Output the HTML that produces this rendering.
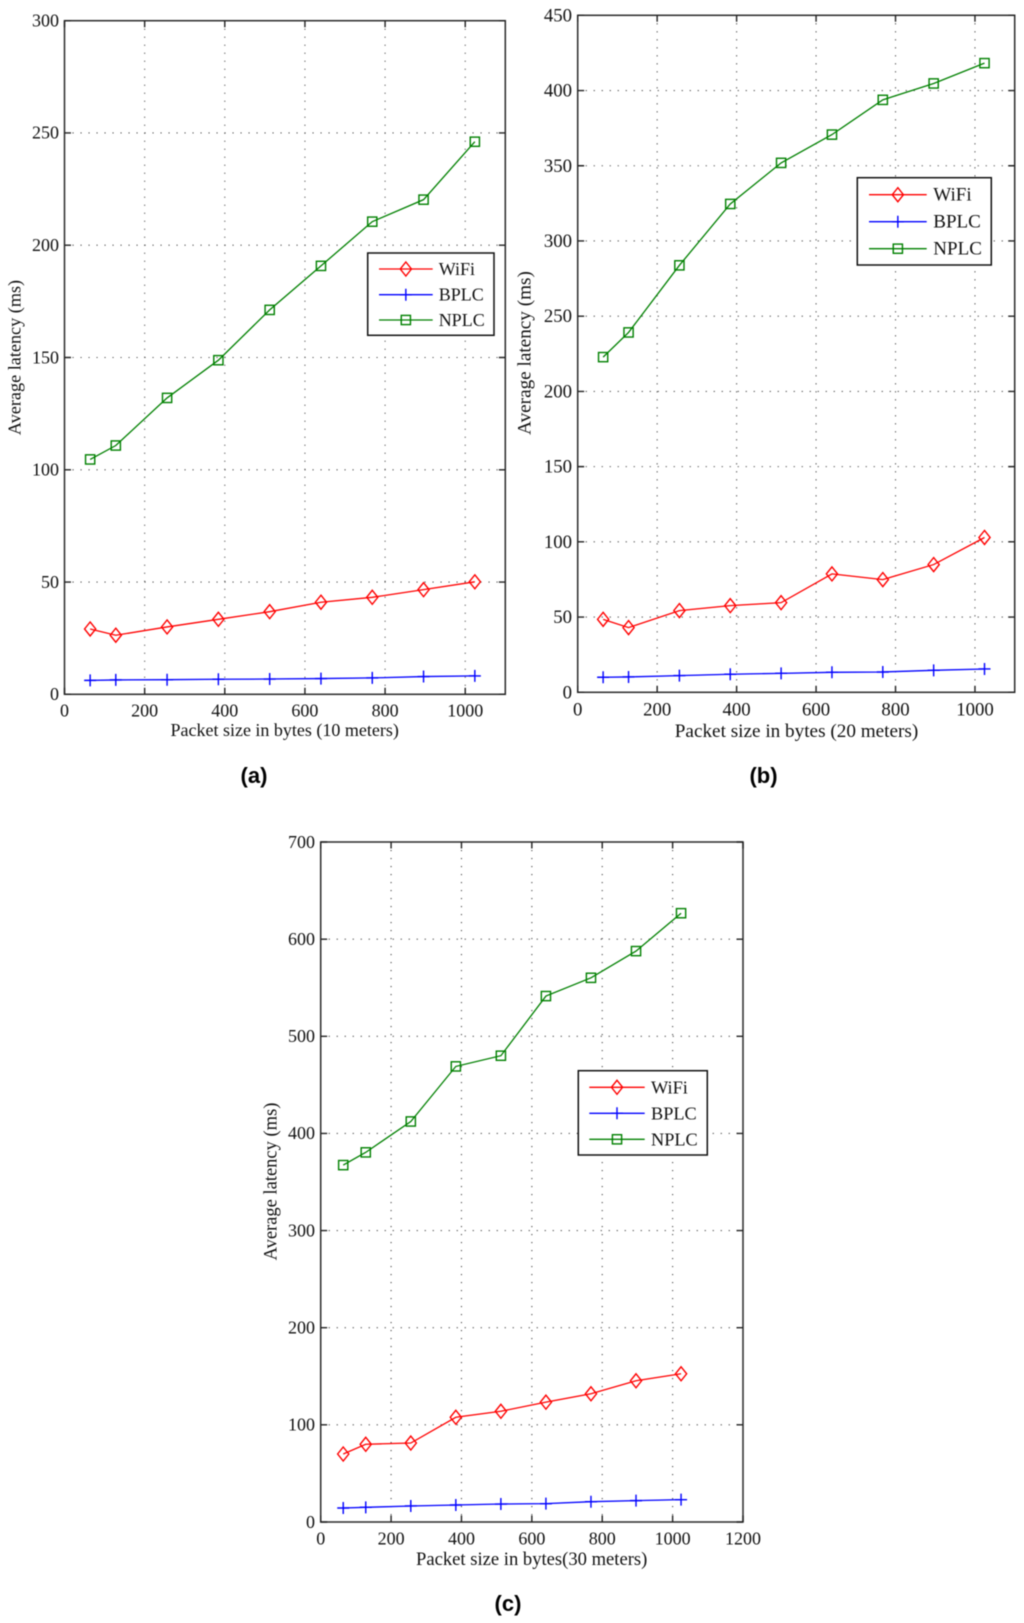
<!DOCTYPE html>
<html lang="en">
<head>
<meta charset="utf-8">
<title>Average latency vs packet size</title>
<style>
html,body{margin:0;padding:0;background:#fff;width:1024px;height:1623px;overflow:hidden}
svg{display:block;position:absolute;left:0;top:0;filter:blur(0.4px)}
text{font-family:"Liberation Serif",serif;fill:#111}
.cap{font-family:"Liberation Sans",sans-serif;font-weight:bold;fill:#000}
</style>
</head>
<body>
<svg id="fig" xmlns="http://www.w3.org/2000/svg" width="1024" height="1623" viewBox="0 0 1024 1623"></svg>
<script>
var packetSizes = [64, 128, 256, 384, 512, 640, 768, 896, 1024];
var seriesNames = ["WiFi", "BPLC", "NPLC"];
var wifi10 = [29.1, 26.3, 30, 33.4, 36.8, 41, 43.2, 46.6, 50.1];
var bplc10 = [6.2, 6.4, 6.5, 6.7, 6.8, 7, 7.3, 7.9, 8.2];
var nplc10 = [104.6, 110.8, 132, 148.8, 171.2, 190.8, 210.5, 220.3, 246.1];
var wifi20 = [48.5, 43, 54.3, 57.6, 59.6, 78.7, 74.9, 84.9, 102.9];
var bplc20 = [10, 10.2, 11.1, 12, 12.6, 13.3, 13.5, 14.6, 15.5];
var nplc20 = [222.8, 239.2, 283.8, 324.6, 351.9, 370.7, 393.8, 404.7, 418.2];
var wifi30 = [70, 80, 81.3, 107.8, 114, 123.4, 132, 145.4, 152.6];
var bplc30 = [14.4, 15.1, 16.5, 17.5, 18.5, 18.9, 20.9, 22, 23];
var nplc30 = [367.4, 380.5, 412.3, 469, 480, 541.4, 560.2, 587.7, 626.7];
var xTicksAB = [0, 200, 400, 600, 800, 1000];
var xTicksC = [0, 200, 400, 600, 800, 1000, 1200];
var yTicksA = [0, 50, 100, 150, 200, 250, 300];
var yTicksB = [0, 50, 100, 150, 200, 250, 300, 350, 400, 450];
var yTicksC = [0, 100, 200, 300, 400, 500, 600, 700];

var NS = "http://www.w3.org/2000/svg";
var fig = document.getElementById("fig");
var COLORS = {WiFi: "#ff0000", BPLC: "#0000ff", NPLC: "#008000"};

function mk(tag, attrs, parent, txt) {
  var el = document.createElementNS(NS, tag);
  for (var k in attrs) el.setAttribute(k, attrs[k]);
  if (txt !== undefined) el.textContent = txt;
  (parent || fig).appendChild(el);
  return el;
}

function drawMarker(parent, kind, cx, cy, label) {
  var c = COLORS[kind];
  var el;
  if (kind === "WiFi") {
    el = mk("polygon", {points: [cx, cy - 7, cx + 5.6, cy, cx, cy + 7, cx - 5.6, cy].join(","), fill: "none", stroke: c, "stroke-width": 1.4}, parent);
  } else if (kind === "BPLC") {
    el = mk("path", {d: "M" + (cx - 6) + " " + cy + "H" + (cx + 6) + "M" + cx + " " + (cy - 6) + "V" + (cy + 6), fill: "none", stroke: c, "stroke-width": 1.4}, parent);
  } else {
    el = mk("rect", {x: cx - 4.6, y: cy - 4.6, width: 9.2, height: 9.2, fill: "none", stroke: c, "stroke-width": 1.4}, parent);
  }
  
  
}

function drawPanel(p) {
  var g = mk("g", {}, fig);
  
  
  var sx = function (v) { return p.left + (v - 0) / p.xMax * (p.right - p.left); };
  var sy = function (v) { return p.bottom - (v - 0) / p.yMax * (p.bottom - p.top); };

  // grid
  var grid = mk("g", {stroke: "#444", "stroke-width": 1.1, "stroke-dasharray": "1.1 6.9", fill: "none"}, g);
  
  
  p.xTicks.forEach(function (t) {
    if (t <= 0 || t >= p.xMax) return;
    var l = mk("line", {x1: sx(t), x2: sx(t), y1: p.top, y2: p.bottom}, grid);
    
    
  });
  p.yTicks.forEach(function (t) {
    if (t <= 0 || t >= p.yMax) return;
    var l = mk("line", {x1: p.left, x2: p.right, y1: sy(t), y2: sy(t)}, grid);
    
    
  });

  // axes box
  var box = mk("rect", {x: p.left, y: p.top, width: p.right - p.left, height: p.bottom - p.top, fill: "none", stroke: "#2a2a2a", "stroke-width": 1.5}, g);
  
  

  // ticks and tick labels
  var TL = 6.5;
  p.xTicks.forEach(function (t) {
    var d = "M" + sx(t) + " " + p.bottom + "v" + (-TL) + "M" + sx(t) + " " + p.top + "v" + TL;
    var tk = mk("path", {d: d, stroke: "#222", "stroke-width": 1.4, fill: "none"}, g);
    
    
    var lb = mk("text", {x: sx(t), y: p.xTickY, "text-anchor": "middle", "font-size": p.tickFont}, g, String(t));
    
    
  });
  p.yTicks.forEach(function (t) {
    var d = "M" + p.left + " " + sy(t) + "h" + TL + "M" + p.right + " " + sy(t) + "h" + (-TL);
    var tk = mk("path", {d: d, stroke: "#222", "stroke-width": 1.4, fill: "none"}, g);
    
    
    var lb = mk("text", {x: p.yTickX, y: sy(t) + p.tickFont * 0.32, "text-anchor": "end", "font-size": p.tickFont}, g, String(t));
    
    
  });

  // axis titles
  var xt = mk("text", {x: p.xTitleX, y: p.xTitleY, "text-anchor": "middle", "font-size": p.xTitleFont}, g, p.xTitle);
  
  
  var yt = mk("text", {x: 0, y: 0, "text-anchor": "middle", "font-size": p.yTitleFont, transform: "translate(" + p.yTitleX + " " + p.yTitleY + ") rotate(-90)"}, g, "Average latency (ms)");
  
  

  // series
  p.series.forEach(function (values, si) {
    var name = seriesNames[si];
    var sg = mk("g", {}, g);
    
    
    var pts = values.map(function (v, i) { return sx(packetSizes[i]) + "," + sy(v); }).join(" ");
    var line = mk("polyline", {points: pts, fill: "none", stroke: COLORS[name], "stroke-width": 1.3}, sg);
    
    
    values.forEach(function (v, i) {
      drawMarker(sg, name, sx(packetSizes[i]), sy(v), "marker-" + name.toLowerCase());
    });
  });

  // legend
  var L = p.legend;
  var lg = mk("g", {}, g);
  
  
  mk("rect", {x: L.x0, y: L.y0, width: L.x1 - L.x0, height: L.y1 - L.y0, fill: "#fff", stroke: "#111", "stroke-width": 1.5}, lg);
  seriesNames.forEach(function (name, i) {
    var e = mk("g", {}, lg);
    
    
    mk("line", {x1: L.lineX0, x2: L.lineX1, y1: L.rows[i], y2: L.rows[i], stroke: COLORS[name], "stroke-width": 1.3}, e);
    drawMarker(e, name, (L.lineX0 + L.lineX1) / 2, L.rows[i], "legend-marker-" + name.toLowerCase());
    var t = mk("text", {x: L.textX, y: L.rows[i] + 6, "font-size": L.font}, e, name);
    
    
  });

  var cap = mk("text", {x: p.capX, y: p.capY, "text-anchor": "middle", "font-size": 22, "class": "cap"}, g, p.caption);
  
  
}

drawPanel({
  id: "a", left: 64.5, right: 505.3, top: 20.7, bottom: 694.3, xMax: 1100, yMax: 300,
  xTicks: xTicksAB, yTicks: yTicksA, series: [wifi10, bplc10, nplc10],
  tickFont: 18, xTickY: 716.5, yTickX: 59,
  xTitle: "Packet size in bytes (10 meters)", xTitleX: 284.7, xTitleY: 736, xTitleFont: 18,
  yTitleX: 20.5, yTitleY: 357.5, yTitleFont: 18.2,
  legend: {x0: 367.7, x1: 494, y0: 253, y1: 335.3, lineX0: 379, lineX1: 432.7, textX: 438.7, rows: [269, 294.7, 320], font: 18},
  caption: "(a)", capX: 254, capY: 783
});
drawPanel({
  id: "b", left: 577.7, right: 1014.7, top: 15.3, bottom: 692.3, xMax: 1100, yMax: 450,
  xTicks: xTicksAB, yTicks: yTicksB, series: [wifi20, bplc20, nplc20],
  tickFont: 18.8, xTickY: 715.5, yTickX: 572,
  xTitle: "Packet size in bytes (20 meters)", xTitleX: 796.5, xTitleY: 737, xTitleFont: 19.2,
  yTitleX: 530.5, yTitleY: 353, yTitleFont: 19.2,
  legend: {x0: 857.3, x1: 991.3, y0: 177.7, y1: 265, lineX0: 869, lineX1: 926.7, textX: 933.3, rows: [194.7, 221.7, 248.7], font: 19},
  caption: "(b)", capX: 763.5, capY: 783
});
drawPanel({
  id: "c", left: 320.7, right: 743, top: 842, bottom: 1522, xMax: 1200, yMax: 700,
  xTicks: xTicksC, yTicks: yTicksC, series: [wifi30, bplc30, nplc30],
  tickFont: 18, xTickY: 1544.5, yTickX: 315,
  xTitle: "Packet size in bytes(30 meters)", xTitleX: 531.7, xTitleY: 1565, xTitleFont: 18.6,
  yTitleX: 276.5, yTitleY: 1181.5, yTitleFont: 18.5,
  legend: {x0: 578.3, x1: 707.3, y0: 1070.7, y1: 1155, lineX0: 589.3, lineX1: 644.7, textX: 651, rows: [1087.3, 1113.3, 1139.3], font: 18.3},
  caption: "(c)", capX: 508, capY: 1611
});
</script>
</body>
</html>
